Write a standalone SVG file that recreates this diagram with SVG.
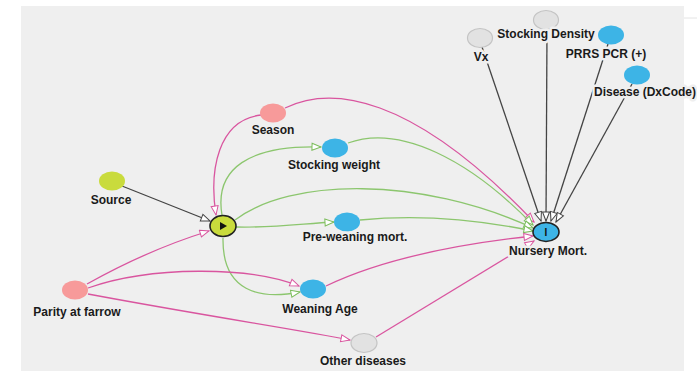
<svg xmlns="http://www.w3.org/2000/svg" width="697" height="371" viewBox="0 0 697 371">
<style>
.lbl{font-family:"Liberation Sans",Arial,sans-serif;font-weight:bold;font-size:12px;fill:#1a1a1a;text-anchor:middle;paint-order:stroke;stroke:#efefef;stroke-width:5px;stroke-linejoin:round}
.e{fill:none;stroke-width:1.3}
.pk{stroke:#d9559f}
.gr{stroke:#8cc66e}
.bk{stroke:#444}
.pink{fill:#f79a9a}
.blue{fill:#3db4e6}
.gray{fill:#e2e2e2;stroke:#c4c4c4;stroke-width:1.2}
</style>
<defs>
<marker id="ap" markerWidth="12" markerHeight="10" refX="10" refY="4.5" orient="auto" markerUnits="userSpaceOnUse"><path d="M1,1 L10,4.5 L1,8 Z" fill="#fff" stroke="#d9559f" stroke-width="1"/></marker>
<marker id="ag" markerWidth="12" markerHeight="10" refX="10" refY="4.5" orient="auto" markerUnits="userSpaceOnUse"><path d="M1,1 L10,4.5 L1,8 Z" fill="#fff" stroke="#7cbd5c" stroke-width="1"/></marker>
<marker id="ab" markerWidth="12" markerHeight="10" refX="10" refY="4.5" orient="auto" markerUnits="userSpaceOnUse"><path d="M1,1 L10,4.5 L1,8 Z" fill="#fff" stroke="#444" stroke-width="1"/></marker>
</defs>
<rect x="0" y="0" width="697" height="371" fill="#fff"/>
<rect x="21" y="6" width="663" height="365" fill="#efefef"/>
<line x1="684" y1="18" x2="697" y2="18" stroke="#e4e4e4" stroke-width="1"/>
<g id="connectors">
<path class="e bk" d="M122,186 L210,221" marker-end="url(#ab)"/>
<path class="e pk" d="M261,115 C218,120 209,170 216,215" marker-end="url(#ap)"/>
<path class="e pk" d="M285,108 C330,86 410,92 534,222" marker-end="url(#ap)"/>
<path class="e gr" d="M222,215 C214,168 250,145 321,147" marker-end="url(#ag)"/>
<path class="e gr" d="M348,143 C400,124 470,160 533,225" marker-end="url(#ag)"/>
<path class="e gr" d="M235,220 C290,178 420,176 533,228" marker-end="url(#ag)"/>
<path class="e gr" d="M236,227 C270,228 300,224 334,222" marker-end="url(#ag)"/>
<path class="e gr" d="M360,220 C420,214 480,220 533,231" marker-end="url(#ag)"/>
<path class="e gr" d="M223,238 C222,292 260,300 300,292" marker-end="url(#ag)"/>
<path class="e pk" d="M87,284 C130,260 170,243 209,231" marker-end="url(#ap)"/>
<path class="e pk" d="M88,288 C150,266 250,266 299,286" marker-end="url(#ap)"/>
<path class="e pk" d="M88,294 C200,315 300,330 350,340" marker-end="url(#ap)"/>
<path class="e pk" d="M326,286 C380,260 450,245 533,236" marker-end="url(#ap)"/>
<path class="e pk" d="M376,337 L534,241" marker-end="url(#ap)"/>
<path class="e bk" d="M482,47 L541,221" marker-end="url(#ab)"/>
<path class="e bk" d="M547,30 L546,221" marker-end="url(#ab)"/>
<path class="e bk" d="M608,44 L551,221" marker-end="url(#ab)"/>
<path class="e bk" d="M632,84 L556,222" marker-end="url(#ab)"/>
</g>
<g id="source"><ellipse class="lbl-n" cx="112" cy="181" rx="13" ry="9.5" fill="#c9db3c"/><text class="lbl" x="111" y="204">Source</text></g>
<g id="season"><ellipse class="pink" cx="273" cy="113" rx="13" ry="9.5"/><text class="lbl" x="273" y="134">Season</text></g>
<g id="stocking-weight"><ellipse class="blue" cx="335" cy="148" rx="13" ry="9.5"/><text class="lbl" x="334" y="169">Stocking weight</text></g>
<g id="exposure"><ellipse cx="223" cy="226" rx="13" ry="10.5" fill="#c9db3c" stroke="#222" stroke-width="1.6"/><polygon points="220,222 227,226 220,230" fill="#111"/></g>
<g id="pre-weaning-mort"><ellipse class="blue" cx="347" cy="222" rx="13" ry="9.5"/><text class="lbl" x="355" y="241">Pre-weaning mort.</text></g>
<g id="parity"><ellipse class="pink" cx="75" cy="290" rx="13" ry="9.5"/><text class="lbl" x="77" y="316">Parity at farrow</text></g>
<g id="weaning-age"><ellipse class="blue" cx="313" cy="289" rx="13" ry="9.5"/><text class="lbl" x="320" y="313">Weaning Age</text></g>
<g id="other-diseases"><ellipse class="gray" cx="364" cy="343" rx="13" ry="9.5"/><text class="lbl" x="363" y="365">Other diseases</text></g>
<g id="vx"><ellipse class="gray" cx="480" cy="38" rx="12.5" ry="9.5"/><text class="lbl" x="481" y="61">Vx</text></g>
<g id="stocking-density"><ellipse class="gray" cx="546" cy="20" rx="12.5" ry="9.5"/><text class="lbl" x="546" y="38">Stocking Density</text></g>
<g id="prrs"><ellipse class="blue" cx="611" cy="35" rx="13" ry="9.5"/><text class="lbl" x="606" y="58">PRRS PCR (+)</text></g>
<g id="disease"><ellipse class="blue" cx="637" cy="75" rx="13" ry="9.5"/><text class="lbl" x="645" y="96">Disease (DxCode)</text></g>
<g id="nursery-mort"><ellipse cx="546" cy="232" rx="13" ry="9.5" fill="#3db4e6" stroke="#222" stroke-width="1.6"/><text x="546" y="236" font-family="Liberation Sans,Arial,sans-serif" font-weight="bold" font-size="10" text-anchor="middle" fill="#111">I</text><text class="lbl" x="548" y="255">Nursery Mort.</text></g>
</svg>
